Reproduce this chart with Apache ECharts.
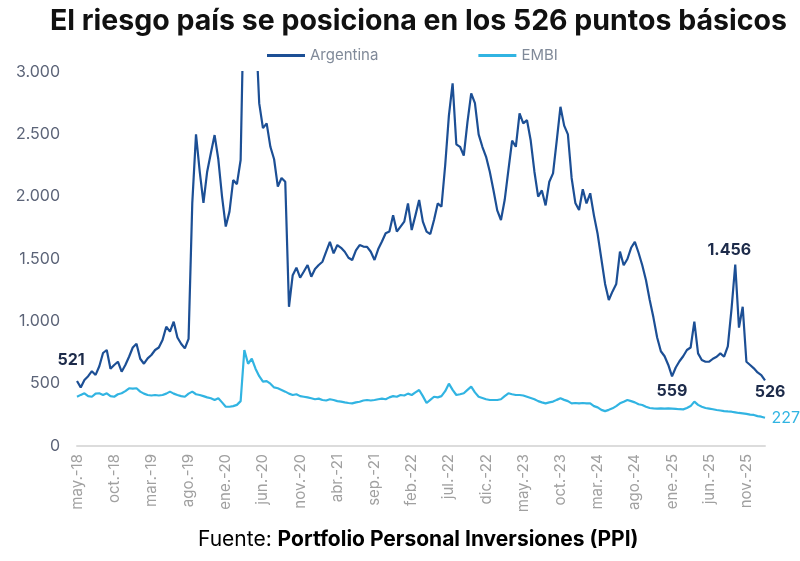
<!DOCTYPE html>
<html><head><meta charset="utf-8">
<script src="https://cdn.jsdelivr.net/npm/echarts@6/dist/echarts.min.js"></script>
<style>html,body{margin:0;padding:0;background:#fff}#c{width:800px;height:561px}</style>
</head><body><div id="c"></div>
<script>
// Tick labels (every 5 months, starting May 2018)
const tickLabels = ['may.-18','oct.-18','mar.-19','ago.-19','ene.-20','jun.-20','nov.-20','abr.-21','sep.-21','feb.-22','jul.-22','dic.-22','may.-23','oct.-23','mar.-24','ago.-24','ene.-25','jun.-25','nov.-25'];
const monthsPerTick = 5;
// Semi-monthly readings (two per month) from May 2018
const pointsPerMonth = 2;
const seriesNames = ['Argentina', 'EMBI'];
const argentina = [
 521,470,530,560,600,570,640,746,770,620,
 650,676,596,650,716,790,820,700,660,703,
 730,770,790,850,957,917,997,870,820,783,
 860,1950,2500,2200,1950,2200,2350,2494,2300,2000,
 1760,1880,2133,2100,2294,3800,4300,4100,3400,2748,
 2550,2588,2400,2300,2080,2150,2120,1117,1370,1430,
 1350,1400,1452,1358,1420,1452,1478,1560,1638,1545,
 1612,1590,1558,1510,1492,1570,1612,1600,1598,1558,
 1492,1580,1640,1706,1720,1850,1720,1760,1800,1946,
 1732,1850,1973,1800,1720,1700,1813,1946,1919,2250,
 2650,2909,2420,2400,2330,2600,2829,2750,2500,2400,
 2320,2200,2050,1890,1813,1973,2213,2450,2400,2668,
 2588,2614,2450,2200,2000,2050,1930,2120,2187,2450,
 2721,2570,2500,2150,1950,1893,2060,1946,2027,1850,
 1700,1500,1300,1171,1240,1300,1560,1450,1500,1590,
 1638,1550,1450,1330,1171,1030,870,760,720,650,
 559,630,680,720,770,790,997,743,690,676,
 676,700,716,743,716,800,1100,1456,950,1117,
 676,650,623,590,569,526
];
const embi = [
 395,410,423,400,395,420,423,410,423,400,
 395,415,423,440,463,460,463,436,420,409,
 405,409,405,409,420,436,420,409,400,395,
 420,436,415,409,400,390,383,369,383,350,
 315,315,320,330,360,770,660,700,620,560,
 516,520,500,470,463,450,436,420,409,415,
 400,395,390,383,375,380,369,365,375,369,
 360,356,350,345,342,350,355,365,369,365,
 369,375,380,375,390,400,395,409,405,420,
 409,430,449,400,345,370,395,390,400,440,
 500,450,409,415,423,450,476,430,395,385,
 375,369,369,369,375,400,423,415,409,409,
 405,395,385,375,360,350,342,350,356,370,
 383,370,360,342,345,342,345,342,342,320,
 310,290,280,290,302,320,342,355,369,360,
 350,335,329,315,305,302,300,302,300,302,
 300,298,295,294,305,320,356,330,315,305,
 300,295,289,285,280,277,275,270,265,262,
 258,252,249,240,235,227
];

const fmt = v => String(v).replace(/\B(?=(\d{3})+(?!\d))/g, '.');
const toPts = arr => arr.map((v, i) => [i / pointsPerMonth, v]);
const lastIdx = argentina.length - 1;
const xMax = lastIdx / pointsPerMonth;

// lowest point of late 2024 / early 2025, and the 2025 spike
const lowWin = argentina.slice(150, 175);
const iMin = 150 + lowWin.indexOf(Math.min(...lowWin));
const peakWin = argentina.slice(170);
const iPeak = 170 + peakWin.indexOf(Math.max(...peakWin));

const ARG = '#1c4f95', EMB = '#31b4e2', LBL = '#1d2b4a';
const FONT = 'Inter, "Open Sans", sans-serif';
const mp = (i, arr, label) => ({ coord: [i / pointsPerMonth, arr[i]], value: arr[i], label });

const chart = echarts.init(document.getElementById('c'));
chart.setOption({
  animation: false,
  textStyle: { fontFamily: FONT },
  title: {
    text: 'El riesgo país se posiciona en los 526 puntos básicos',
    left: 45, top: 2,
    textStyle: { fontSize: 28.5, fontWeight: 'bold', color: '#111', fontFamily: FONT }
  },
  legend: {
    data: seriesNames, left: 262, top: 43, icon: 'rect', itemWidth: 38, itemHeight: 3, itemGap: 100,
    textStyle: { color: '#808a99', fontSize: 15, fontFamily: FONT }
  },
  grid: { left: 77, right: 35, top: 72, bottom: 115, containLabel: false },
  xAxis: {
    type: 'value', min: 0, max: xMax, interval: monthsPerTick,
    axisLine: { show: true, lineStyle: { color: '#dcdcdc', width: 2 } },
    axisTick: { show: false }, splitLine: { show: false },
    axisLabel: {
      rotate: 90, color: '#a0a0a0', fontSize: 15, margin: 8, fontFamily: FONT,
      formatter: v => (v % monthsPerTick === 0 && tickLabels[v / monthsPerTick]) || ''
    }
  },
  yAxis: {
    type: 'value', min: 0, max: 3000, interval: 500,
    axisLine: { show: false }, axisTick: { show: false }, splitLine: { show: false },
    axisLabel: { color: '#5c6478', fontSize: 16, margin: 17, fontFamily: FONT, formatter: v => fmt(v) }
  },
  series: [
    {
      name: seriesNames[0], type: 'line', data: toPts(argentina), symbol: 'none', clip: true,
      lineStyle: { color: ARG, width: 2.2 }, itemStyle: { color: ARG }, z: 3,
      markPoint: {
        symbol: 'circle', symbolSize: 1, itemStyle: { color: 'rgba(0,0,0,0)' },
        label: { show: true, color: LBL, fontWeight: 'bold', fontSize: 16, fontFamily: FONT, formatter: p => fmt(p.value) },
        data: [
          mp(0, argentina, { position: 'top', offset: [-6, -7] }),
          mp(iMin, argentina, { position: 'bottom', distance: 6 }),
          mp(iPeak, argentina, { position: 'top', offset: [-6, 0], distance: 6 }),
          mp(lastIdx, argentina, { position: 'bottom', offset: [5, 0], distance: 3 })
        ]
      }
    },
    {
      name: seriesNames[1], type: 'line', data: toPts(embi), symbol: 'none', clip: true,
      lineStyle: { color: EMB, width: 2.2 }, itemStyle: { color: EMB }, z: 2,
      markPoint: {
        symbol: 'circle', symbolSize: 1, itemStyle: { color: 'rgba(0,0,0,0)' },
        label: { show: true, color: EMB, fontSize: 16, fontFamily: FONT, formatter: p => fmt(p.value) },
        data: [ mp(lastIdx, embi, { position: 'right', distance: 6 }) ]
      }
    }
  ],
  graphic: [{
    type: 'text', left: 198, top: 529,
    style: {
      text: '{a|Fuente: }{b|Portfolio Personal Inversiones (PPI)}',
      rich: {
        a: { fontSize: 21, color: '#333', fontFamily: FONT },
        b: { fontSize: 21, color: '#111', fontWeight: 'bold', fontFamily: FONT }
      }
    }
  }]
});
</script>
</body></html>
